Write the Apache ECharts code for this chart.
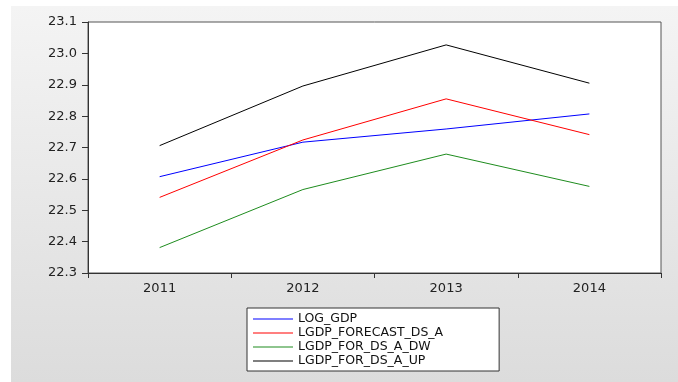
<!DOCTYPE html>
<html>
<head>
<meta charset="utf-8">
<script src="https://cdn.jsdelivr.net/npm/echarts@6/dist/echarts.min.js"></script>
<style>
  html, body { margin: 0; padding: 0; background: #ffffff; }
  #chart { width: 678px; height: 382px; }
</style>
</head>
<body>
<div id="chart"></div>
<script>
// Years on the category axis
const years = ['2011', '2012', '2013', '2014'];

// Log GDP and the forecast band (central, lower, upper)
const logGdp       = [22.607, 22.717, 22.759, 22.807];
const lgdpForecast = [22.541, 22.724, 22.855, 22.741];
const lgdpDown     = [22.381, 22.566, 22.679, 22.576];
const lgdpUp       = [22.706, 22.896, 23.027, 22.905];

// Series names shown in the legend
const seriesNames = ['LOG_GDP', 'LGDP_FORECAST_DS_A', 'LGDP_FOR_DS_A_DW', 'LGDP_FOR_DS_A_UP'];
const seriesColors = ['#0000ff', '#ff0000', '#1e8c1e', '#000000'];
const seriesData = [logGdp, lgdpForecast, lgdpDown, lgdpUp];

const FONT = '"DejaVu Sans", sans-serif';

const chart = echarts.init(document.getElementById('chart'), null, { renderer: 'canvas' });

chart.setOption({
  animation: false,
  backgroundColor: '#ffffff',
  graphic: {
    elements: [{
      type: 'rect',
      z: -10,
      silent: true,
      shape: { x: 11, y: 6, width: 667, height: 376 },
      style: {
        fill: new echarts.graphic.LinearGradient(0, 0, 0, 1, [
          { offset: 0, color: '#f4f4f4' },
          { offset: 1, color: '#dcdcdc' }
        ])
      }
    }]
  },
  grid: {
    left: 88, right: 17, top: 22, bottom: 109,
    show: true,
    backgroundColor: '#ffffff',
    borderColor: '#555555',
    borderWidth: 1
  },
  xAxis: {
    type: 'category',
    data: years,
    boundaryGap: true,
    axisLine: { show: true, lineStyle: { color: '#333333', width: 1 } },
    axisTick: { show: true, length: 5, inside: false, lineStyle: { color: '#333333' } },
    axisLabel: { margin: 9, color: '#222222', fontSize: 13, fontFamily: FONT },
    splitLine: { show: false }
  },
  yAxis: {
    type: 'value',
    min: 22.3,
    max: 23.1,
    interval: 0.1,
    axisLine: { show: true, lineStyle: { color: '#333333', width: 1 } },
    axisTick: { show: true, length: 6, inside: false, lineStyle: { color: '#333333' } },
    axisLabel: {
      margin: 11, color: '#222222', fontSize: 13, fontFamily: FONT,
      formatter: v => v.toFixed(1)
    },
    splitLine: { show: false }
  },
  legend: {
    orient: 'vertical',
    left: 247,
    top: 308,
    icon: 'rect',
    itemWidth: 40,
    itemHeight: 1,
    itemGap: 0,
    padding: [4, 56, 3, 6],
    backgroundColor: '#ffffff',
    borderColor: '#333333',
    borderWidth: 1,
    selectedMode: false,
    textStyle: { fontSize: 12.5, fontFamily: FONT, color: '#111111', lineHeight: 14 },
    data: seriesNames
  },
  series: seriesNames.map((name, i) => ({
    name: name,
    type: 'line',
    data: seriesData[i],
    symbol: 'none',
    showSymbol: false,
    color: seriesColors[i],
    lineStyle: { color: seriesColors[i], width: 1 }
  }))
});
</script>
</body>
</html>
